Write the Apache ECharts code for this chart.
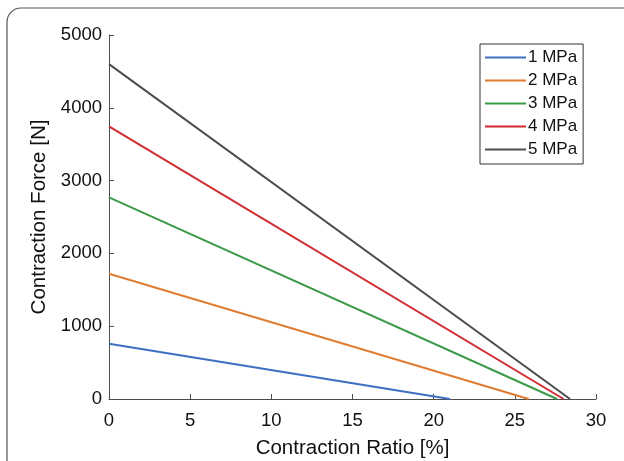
<!DOCTYPE html>
<html>
<head>
<meta charset="utf-8">
<script src="https://cdn.jsdelivr.net/npm/echarts@6/dist/echarts.min.js"></script>
<style>html,body{margin:0;padding:0;background:#fff;}#c{width:624px;height:461px;}</style>
</head>
<body>
<div id="c"></div>
<script>
const seriesNames = ['1 MPa', '2 MPa', '3 MPa', '4 MPa', '5 MPa'];
const forceAtZero = [760, 1720, 2770, 3745, 4600];
const ratioAtZeroForce = [21.0, 25.85, 27.6, 28.0, 28.4];
const colors = ['#3e6fc2', '#e07b32', '#3c9b48', '#d12b2e', '#4d4d4d'];
const xTicks = [0, 5, 10, 15, 20, 25, 30];
const yTicks = [0, 1000, 2000, 3000, 4000, 5000];

const chart = echarts.init(document.getElementById('c'), null, {renderer: 'canvas'});
const font = 'Liberation Sans, Arial, sans-serif';
const series = seriesNames.map((n, i) => ({
  name: n,
  type: 'line',
  symbol: 'none',
  data: [[0, forceAtZero[i]], [ratioAtZeroForce[i], 0]],
  lineStyle: {color: colors[i], width: 2},
  itemStyle: {color: colors[i]},
  z: 3
}));
chart.setOption({
  animation: false,
  backgroundColor: '#fff',
  graphic: [{
    type: 'rect',
    shape: {x: 7, y: 8, width: 660, height: 500, r: 14},
    style: {fill: 'none', stroke: '#555', lineWidth: 1.2},
    z: -1
  }],
  grid: {left: 109, top: 35, right: 28, bottom: 62, containLabel: false, outerBoundsMode: 'none'},
  legend: {
    left: 480, top: 44,
    orient: 'vertical',
    data: seriesNames,
    icon: 'rect',
    itemWidth: 41, itemHeight: 2, itemGap: 0,
    padding: [2, 6, 3, 5],
    borderColor: '#333', borderWidth: 1,
    backgroundColor: '#fff',
    textStyle: {fontFamily: font, fontSize: 17, color: '#111', lineHeight: 23, padding: [0, 0, 0, -3]}
  },
  xAxis: {
    type: 'value', min: xTicks[0], max: xTicks[xTicks.length - 1], interval: 5,
    name: 'Contraction Ratio [%]', nameLocation: 'middle', nameGap: 39,
    nameTextStyle: {fontFamily: font, fontSize: 20.5, color: '#111'},
    axisLine: {show: true, lineStyle: {color: '#4d4d4d', width: 1}},
    axisTick: {show: true, inside: true, length: 5, lineStyle: {color: '#4d4d4d'}},
    axisLabel: {fontFamily: font, fontSize: 18.5, color: '#111', margin: 12, formatter: v => String(v)},
    splitLine: {show: false}
  },
  yAxis: {
    type: 'value', min: yTicks[0], max: yTicks[yTicks.length - 1], interval: 1000,
    name: 'Contraction Force [N]', nameLocation: 'middle', nameGap: 45,
    nameTextStyle: {fontFamily: font, fontSize: 20.5, color: '#111'},
    axisLine: {show: true, lineStyle: {color: '#4d4d4d', width: 1}},
    axisTick: {show: true, inside: true, length: 5, lineStyle: {color: '#4d4d4d'}},
    axisLabel: {fontFamily: font, fontSize: 18.5, color: '#111', margin: 7, formatter: v => String(v)},
    splitLine: {show: false}
  },
  series: series
});
</script>
</body>
</html>
